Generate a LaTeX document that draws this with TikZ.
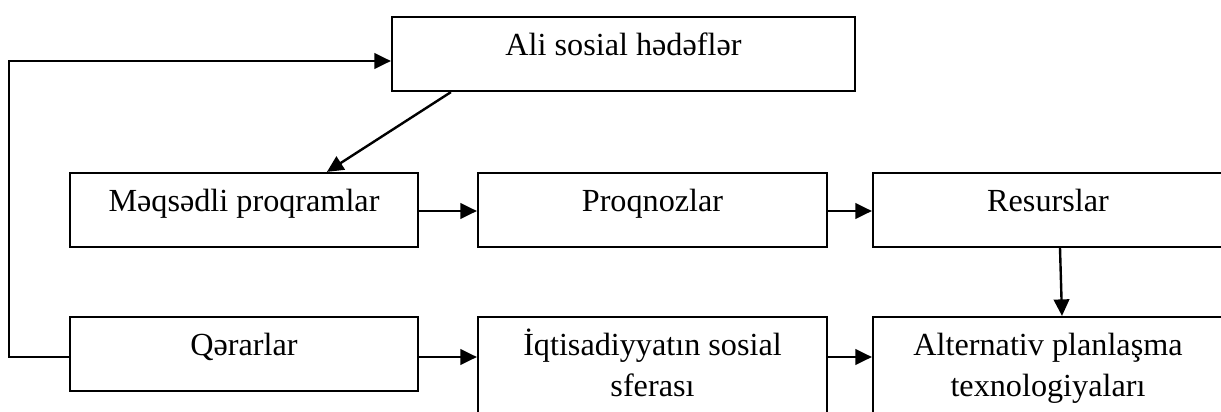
\documentclass[tikz,border=0pt]{standalone}
\usepackage{fontspec}
\setmainfont{Liberation Serif}
\usetikzlibrary{arrows.meta,calc}
\begin{document}
\begin{tikzpicture}[x=1pt,y=-1pt,
  box/.style={draw, line width=2.2pt, rectangle, inner sep=0pt},
  lbl/.style={anchor=base, inner sep=0pt, align=center, font=\fontsize{32.2}{41}\selectfont},
  arr/.style={line width=2.4pt, -{Triangle[length=16.5pt,width=15.5pt]}},
  ln/.style={line width=2.4pt}]
\useasboundingbox (0,0) rectangle (1221,412);
% boxes
\node[box, minimum width=463pt, minimum height=74pt] (top) at (623.5,54) {};
\node[box, minimum width=348pt, minimum height=74pt] (M) at (244,210) {};
\node[box, minimum width=349pt, minimum height=74pt] (P) at (652.5,210) {};
\node[box, minimum width=350pt, minimum height=74pt] (R) at (1048,210) {};
\node[box, minimum width=348pt, minimum height=74pt] (Q) at (244,354) {};
\node[box, minimum width=349pt, minimum height=120pt] (I) at (652.5,377) {};
\node[box, minimum width=350pt, minimum height=120pt] (A) at (1048,377) {};
% labels
\node[lbl] (tTop) at ($(top.north)+(0,40)$) {Ali sosial hədəflər};
\node[lbl] (tM) at ($(M.north)+(0,40)$) {Məqsədli proqramlar};
\node[lbl] (tP) at ($(P.north)+(0,40)$) {Proqnozlar};
\node[lbl] (tR) at ($(R.north)+(0,40)$) {Resurslar};
\node[lbl] (tQ) at ($(Q.north)+(0,40)$) {Qərarlar};
\node[lbl] (tI) at ($(I.north)+(0,81)$) {İqtisadiyyatın sosial\\sferası};
\node[lbl] (tA) at ($(A.north)+(0,81)$) {Alternativ planlaşma\\texnologiyaları};
% connectors
\draw[arr] ($(top.south west)+(60,0)$) -- ($(M.north west)+(258,0)$);
\draw[arr] ($(M.east)+(0,1)$) -- ($(P.west)+(0,1)$);
\draw[arr] ($(P.east)+(0,1)$) -- ($(R.west)+(0,1)$);
\draw[arr] ($(R.south)+(12,0)$) -- ($(A.north)+(14,0)$);
\draw[arr] ($(Q.east)+(0,3)$) -- ($(Q.east -| I.west)+(0,3)$);
\draw[arr] ($(Q.east -| I.east)+(0,3)$) -- ($(Q.east -| A.west)+(0,3)$);
\coordinate (fb) at ($(Q.west)+(-60,3)$);
\draw[arr] ($(Q.west)+(0,3)$) -- (fb) |- ($(top.west)+(0,7)$);
\end{tikzpicture}
\end{document}
